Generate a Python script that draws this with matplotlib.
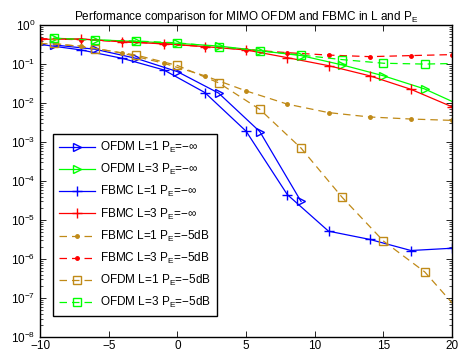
import numpy as np
import matplotlib
matplotlib.use('Agg')
import matplotlib.pyplot as plt

plt.rcParams['font.family'] = ['Liberation Sans', 'DejaVu Sans']
plt.rcParams['mathtext.fontset'] = 'custom'
plt.rcParams['mathtext.rm'] = 'Liberation Sans'
plt.rcParams['mathtext.it'] = 'Liberation Sans'
plt.rcParams['mathtext.default'] = 'regular'

# x grids (dB)
snr_fbmc = [-10, -7, -4, -1, 2, 5, 8, 11, 14, 17, 20]
snr_ofdm = [-9, -6, -3, 0, 3, 6, 9, 12, 15, 18, 21]
snr_ofdm_l1 = [-9, -6, -3, 0, 3, 6, 9]

# BER
ofdm_l1 = [0.31, 0.24, 0.14, 0.064, 0.018, 1.85e-3, 3.0e-5]
ofdm_l3 = [0.46, 0.42, 0.38, 0.34, 0.29, 0.22, 0.165, 0.095, 0.05, 0.023, 0.0076]
fbmc_l1 = [0.32, 0.23, 0.14, 0.071, 0.0186, 1.9e-3, 4.5e-5, 5.2e-6, 3.2e-6, 1.66e-6, 1.9e-6]
fbmc_l3 = [0.43, 0.44, 0.37, 0.33, 0.28, 0.23, 0.146, 0.091, 0.05, 0.0225, 0.008]
fbmc_l1_5 = [0.34, 0.29, 0.19, 0.105, 0.05, 0.0205, 0.0094, 0.0057, 0.0044, 0.0039, 0.0036]
fbmc_l3_5 = [0.45, 0.42, 0.38, 0.33, 0.28, 0.235, 0.196, 0.17, 0.155, 0.165, 0.175]
ofdm_l1_5 = [0.34, 0.25, 0.17, 0.092, 0.033, 0.0069, 7.0e-4, 3.8e-5, 2.9e-6, 4.7e-7, 3.0e-8]
ofdm_l3_5 = [0.46, 0.41, 0.39, 0.35, 0.28, 0.22, 0.17, 0.13, 0.105, 0.1, 0.105]

labels = [r'OFDM L=1 P$_E$=−∞', r'OFDM L=3 P$_E$=−∞',
          r'FBMC L=1 P$_E$=−∞', r'FBMC L=3 P$_E$=−∞',
          r'FBMC L=1 P$_E$=−5dB', r'FBMC L=3 P$_E$=−5dB',
          r'OFDM L=1 P$_E$=−5dB', r'OFDM L=3 P$_E$=−5dB']

brown = '#C08A18'

fig = plt.figure(figsize=(4.6, 3.53), dpi=100)
ax = fig.add_axes([0.087, 0.045, 0.896, 0.884])

ax.semilogy(snr_ofdm_l1, ofdm_l1, '->', color='b', mfc='none', ms=6, lw=0.9, label=labels[0])
ax.semilogy(snr_ofdm, ofdm_l3, '->', color=(0, 1, 0), mfc='none', ms=6, lw=0.9, label=labels[1])
ax.semilogy(snr_fbmc, fbmc_l1, '-+', color='b', ms=7, lw=0.9, label=labels[2])
ax.semilogy(snr_fbmc, fbmc_l3, '-+', color='r', ms=7, lw=0.9, label=labels[3])
ax.semilogy(snr_fbmc, fbmc_l1_5, '--.', color=brown, ms=5, lw=0.9, dashes=(6, 4), label=labels[4])
ax.semilogy(snr_fbmc, fbmc_l3_5, '--.', color='r', ms=5, lw=0.9, dashes=(6, 4), label=labels[5])
ax.semilogy(snr_ofdm, ofdm_l1_5, '--s', color=brown, mfc='none', ms=5.5, lw=0.9, dashes=(6, 4), label=labels[6])
ax.semilogy(snr_ofdm, ofdm_l3_5, '--s', color=(0, 1, 0), mfc='none', ms=5.5, lw=0.9, dashes=(6, 4), label=labels[7])

ax.set_xlim(-10, 20)
ax.set_ylim(1e-8, 1)
ax.set_xticks([-10, -5, 0, 5, 10, 15, 20])
ax.set_xticklabels(['−10', '−5', '0', '5', '10', '15', '20'])
ax.set_yticks([10.0 ** k for k in range(-8, 1)])
ax.set_yticklabels([r'10$^{%d}$' % k if k == 0 else r'10$^{−%d}$' % (-k) for k in range(-8, 1)])
ax.tick_params(which='both', direction='in', top=True, right=True, labelsize=8.5)
ax.tick_params(which='major', length=4, width=0.6)
ax.tick_params(which='minor', length=2, width=0.5)
ax.tick_params(axis='x', which='major', pad=2)
ax.tick_params(axis='x', which='minor', top=False, bottom=False)
for s in ax.spines.values():
    s.set_linewidth(1.0)

ax.set_title(r'Performance comparison for MIMO OFDM and FBMC in L and P$_E$', fontsize=8.5, pad=4)

leg = ax.legend(loc='lower left', bbox_to_anchor=(0.032, 0.067), borderaxespad=0,
                fontsize=8.5, fancybox=False, edgecolor='k', framealpha=1,
                handlelength=3.0, handletextpad=0.45, labelspacing=0.6, borderpad=0.5)
leg.get_frame().set_linewidth(1.0)

fig.savefig('out.png', dpi=100)
